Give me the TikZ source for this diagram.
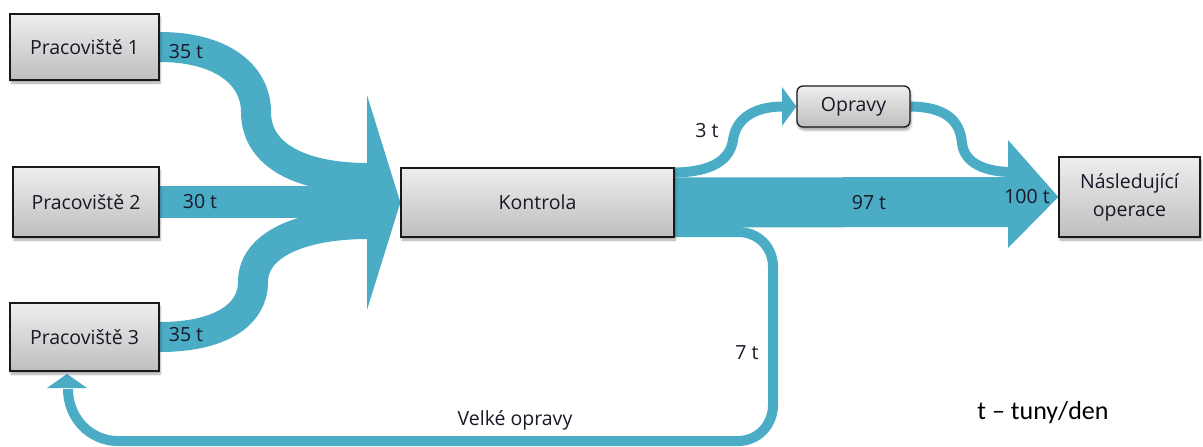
\documentclass[tikz,border=0pt]{standalone}
\usepackage{fontspec}
\setmainfont{Open Sans}
\newfontfamily\legendfont{Carlito}
\usetikzlibrary{shadows.blur,backgrounds}
\definecolor{flowc}{RGB}{75,172,198}
\definecolor{boxtop}{RGB}{238,238,238}
\definecolor{boxbot}{RGB}{190,190,190}
\definecolor{inkc}{RGB}{24,24,38}

\begin{document}
\begin{tikzpicture}[x=1pt,y=-1pt,
  box/.style={draw=black!90, line width=1.3pt, top color=boxtop, bottom color=boxbot,
    inner sep=0pt, text=inkc, font=\fontsize{19.5}{28}\selectfont, align=center,
    blur shadow={shadow xshift=1pt, shadow yshift=-3pt, shadow blur steps=6, shadow opacity=35}},
  flow/.style={draw=flowc, line cap=butt},
  tiphead/.style={fill=flowc},
  lbl/.style={text=inkc, font=\fontsize{19.5}{24}\selectfont, inner sep=0pt}]

\useasboundingbox (0,0) rectangle (1203,447);

% workstations, inspection, repairs, next step
\node[box, minimum width=149pt, minimum height=66pt] (p1) at (84.5,47) {Pracoviště 1};
\node[box, minimum width=146pt, minimum height=70pt] (p2) at (86,202) {Pracoviště 2};
\node[box, minimum width=149pt, minimum height=68pt] (p3) at (84.5,337) {Pracoviště 3};
\node[box, minimum width=273pt, minimum height=69pt] (k) at (537.5,202.5) {Kontrola};
\node[box, rounded corners=6pt, minimum width=113pt, minimum height=41pt] (o) at (853.5,106.5) {Opravy};
\node[box, minimum width=141pt, minimum height=80pt] (n) at (1129.5,197) {Následující\\operace};

% free ends of the flows
\coordinate (inbase) at (368,202);
\coordinate (outbase) at (1009,202);
\coordinate (obase) at (783,106.5);
\coordinate (loopend) at (68,389);

\begin{scope}[on background layer]
  % inflows into inspection
  \draw[flow, line width=30pt] (p1.east) .. controls (222,47) and (256,75) .. (256,112)
        .. controls (256,155) and (300,178) .. (inbase |- 0,178);
  \draw[flow, line width=32pt] (p2.east) -- (inbase);
  \draw[flow, line width=30pt] (p3.east) .. controls (220,337) and (253,315) .. (253,282)
        .. controls (253,245) and (300,224) .. (inbase |- 0,224);
  \fill[tiphead] (367,95) -- (k.west) -- (367,310) -- cycle;

  % main outflow
  \draw[flow, line width=50pt] (k.east) -- (outbase);
  \fill[tiphead] (1008,140) -- (n.west) -- (1008,248) -- cycle;

  % small repairs
  \draw[flow, line width=10pt] ([yshift=30pt]k.east) .. controls (712,172) and (730,160) .. (733,140)
        .. controls (736,118) and (755,106.5) .. (obase);
  \fill[tiphead] (782,87) -- (o.west) -- (782,126) -- cycle;
  \draw[flow, line width=10pt] (o.east) .. controls (945,107) and (960,120) .. (962,143)
        .. controls (964,163) and (985,172) .. (1012,172);

  % major repairs back to workstation 3
  \draw[flow, line width=10pt] ([yshift=-29.5pt]k.east) -- (738,232)
        .. controls (758,232) and (773,247) .. (773,267) -- (773,405)
        .. controls (773,425) and (758,441) .. (738,441) -- (118,441)
        .. controls (90,441) and (68,418) .. (loopend);
  \fill[tiphead] (47,388) -- (67,374) -- (87,388) -- cycle;
\end{scope}

% flow labels
\node[lbl] (l1) at (186,52) {35 t};
\node[lbl] (l2) at (200,202) {30 t};
\node[lbl] (l3) at (186,335) {35 t};
\node[lbl] (l4) at (707,131) {3 t};
\node[lbl] (l5) at (869,203) {97 t};
\node[lbl] (l6) at (1027,197) {100 t};
\node[lbl] (l7) at (747,353) {7 t};
\node[lbl] (l8) at (515,420) {Velké opravy};
\node[inner sep=0pt, font=\legendfont\fontsize{26}{30}\selectfont] (leg) at (1043,413) {t – tuny/den};
\end{tikzpicture}
\end{document}
